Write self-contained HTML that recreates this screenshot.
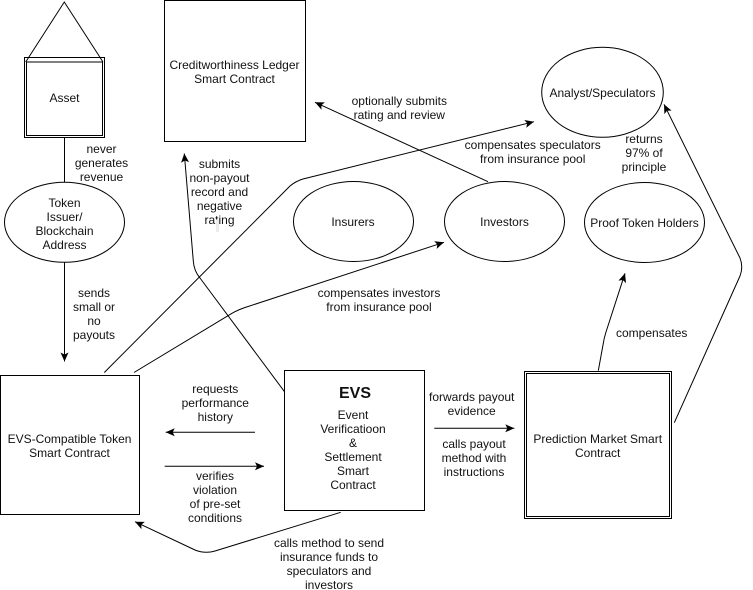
<!DOCTYPE html>
<html>
<head>
<meta charset="utf-8">
<style>
html,body{margin:0;padding:0;background:#fff}
svg{display:block}
text{font-family:"Liberation Sans",sans-serif;font-size:12px;fill:#111;text-anchor:middle}
.s{fill:none;stroke:#000;stroke-width:1}
.w{fill:#fff;stroke:#000;stroke-width:1}
</style>
</head>
<body>
<svg width="753" height="590" viewBox="0 0 753 590" xmlns="http://www.w3.org/2000/svg">
<defs>
<marker id="a" markerUnits="userSpaceOnUse" markerWidth="12" markerHeight="10" refX="10" refY="5" orient="auto">
<path d="M1 1 L10 5 L1 9 L3 5 Z" fill="#000"/>
</marker>
</defs>
<rect width="753" height="590" fill="#fff"/>

<!-- Connectors -->
<path class="s" d="M64.5 137V182"/>
<path class="s" d="M64.5 262V361.5" marker-end="url(#a)"/>
<path class="s" d="M284.5 391.7L200 278Q194 271 193.3 261L184.3 153.5" marker-end="url(#a)"/>
<path class="s" d="M104.3 372.5L290 186Q296 181 303 179L534 121.7" marker-end="url(#a)"/>
<path class="s" d="M134 372.5L233 312.7Q238 310 245 307.5L444 242.3" marker-end="url(#a)"/>
<path class="s" d="M488 181.7L315 102.3" marker-end="url(#a)"/>
<path class="s" d="M598.3 370.7L603 345Q604 338 606 332L625 273.3" marker-end="url(#a)"/>
<path class="s" d="M674.3 422.7L740 276Q743.5 267 740 258L664 104.3" marker-end="url(#a)"/>
<path class="s" d="M255 432.3H165.7" marker-end="url(#a)"/>
<path class="s" d="M164.7 466.3H264" marker-end="url(#a)"/>
<path class="s" d="M434.3 428.3H514.3" marker-end="url(#a)"/>
<path class="s" d="M340.7 512.3L215 551Q205 554 195 550L135 521.7" marker-end="url(#a)"/>

<!-- Asset -->
<path class="s" d="M25.7 62L64.3 2L103 62"/>
<rect class="s" x="24.5" y="57.5" width="80" height="80"/>
<rect class="s" x="26.5" y="62" width="76" height="73.5"/>

<!-- Boxes -->
<rect class="s" x="164.5" y="0.5" width="141" height="141"/>
<rect class="s" x="0.5" y="375.5" width="139" height="139"/>
<rect class="s" x="284.5" y="370.5" width="140" height="140"/>
<rect class="s" x="524.5" y="371.5" width="147" height="147"/>
<rect class="s" x="526.5" y="373.5" width="143" height="143"/>

<!-- Ellipses -->
<ellipse class="w" cx="64.5" cy="222.3" rx="60" ry="40"/>
<ellipse class="w" cx="602.5" cy="92.3" rx="60.8" ry="45"/>
<ellipse class="w" cx="353.5" cy="221.5" rx="60" ry="40"/>
<ellipse class="w" cx="504.5" cy="221.5" rx="60" ry="40"/>
<ellipse class="w" cx="644.5" cy="222.5" rx="60" ry="40"/>

<!-- Labels -->
<text x="64.5" y="102">Asset</text>
<text x="101.5" y="153">never</text>
<text x="101.5" y="167">generates</text>
<text x="101.5" y="181">revenue</text>
<text x="64.5" y="207">Token</text>
<text x="64.5" y="221">Issuer/</text>
<text x="64.5" y="235">Blockchain</text>
<text x="64.5" y="249">Address</text>
<text x="94" y="297">sends</text>
<text x="94" y="311">small or</text>
<text x="94" y="325">no</text>
<text x="94" y="339">payouts</text>
<text x="234.5" y="69">Creditworthiness Ledger</text>
<text x="234.5" y="83">Smart Contract</text>
<text x="219.5" y="168">submits</text>
<text x="219.5" y="182">non-payout</text>
<text x="219.5" y="196">record and</text>
<text x="219.5" y="210">negative</text>
<text x="219.5" y="224">rating</text>
<rect x="216" y="219.5" width="3" height="12.5" fill="#ececec"/>
<text x="399.3" y="105">optionally submits</text>
<text x="399.3" y="119">rating and review</text>
<text x="532.7" y="149">compensates speculators</text>
<text x="532.7" y="163">from insurance pool</text>
<text x="644" y="143">returns</text>
<text x="644" y="157">97% of</text>
<text x="644" y="171">principle</text>
<text x="602.5" y="97">Analyst/Speculators</text>
<text x="353" y="226">Insurers</text>
<text x="504.5" y="226">Investors</text>
<text x="644.5" y="227">Proof Token Holders</text>
<text x="379" y="297">compensates investors</text>
<text x="379" y="311">from insurance pool</text>
<text x="651.7" y="337">compensates</text>
<text x="69.5" y="443">EVS-Compatible Token</text>
<text x="69.5" y="457">Smart Contract</text>
<text x="215.3" y="393">requests</text>
<text x="215.3" y="407">performance</text>
<text x="215.3" y="421">history</text>
<text x="215" y="480">verifies</text>
<text x="215" y="494">violation</text>
<text x="215" y="508">of pre-set</text>
<text x="215" y="522">conditions</text>
<text x="355" y="398" style="font-size:16px;font-weight:bold">EVS</text>
<text x="353" y="419">Event</text>
<text x="353" y="433">Verificatioon</text>
<text x="353" y="447">&amp;</text>
<text x="353" y="461">Settlement</text>
<text x="353" y="475">Smart</text>
<text x="353" y="489">Contract</text>
<text x="329" y="547">calls method to send</text>
<text x="329" y="561">insurance funds to</text>
<text x="329" y="575">speculators and</text>
<text x="329" y="589">investors</text>
<text x="471.7" y="401">forwards payout</text>
<text x="471.7" y="415">evidence</text>
<text x="474" y="448">calls payout</text>
<text x="474" y="462">method with</text>
<text x="474" y="476">instructions</text>
<text x="597.7" y="443">Prediction Market Smart</text>
<text x="597.7" y="457">Contract</text>
</svg>
</body>
</html>
